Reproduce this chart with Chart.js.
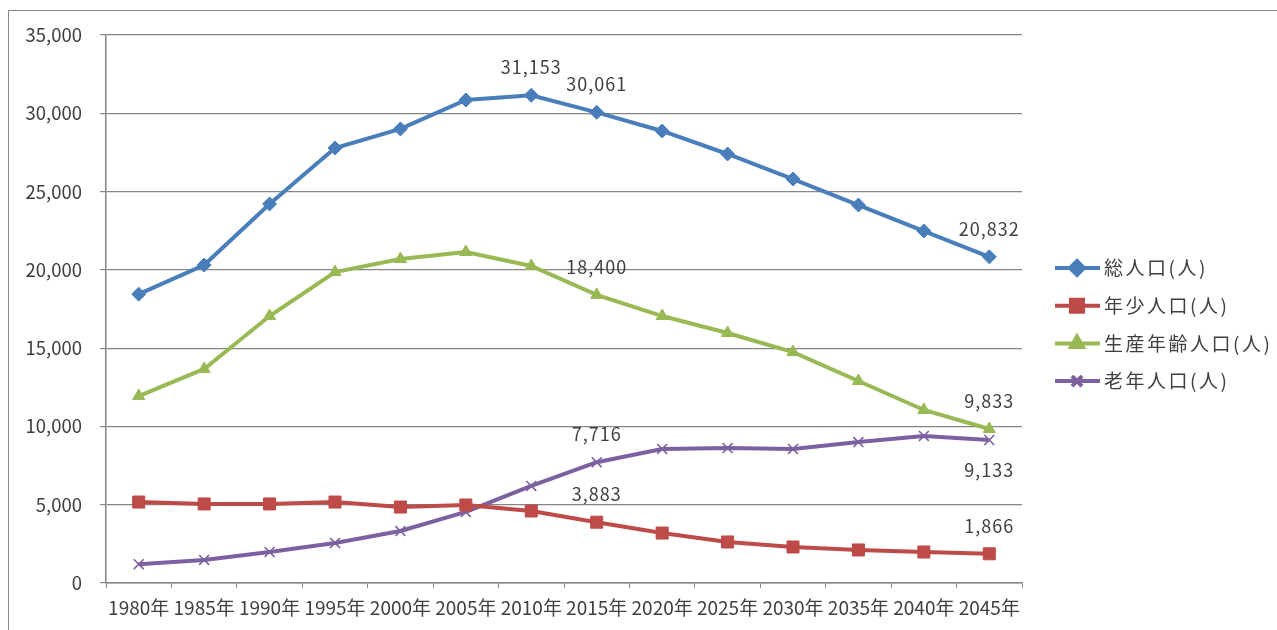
<!DOCTYPE html>
<html lang="ja">
  <head>
    <meta charset="UTF-8" />
    <title>人口推計</title>
    <script src="https://cdn.jsdelivr.net/npm/chart.js"></script>
    <style>
      html, body { margin: 0; padding: 0; background: #fff; }
      .wrap { position: relative; width: 1277px; height: 630px; overflow: hidden; }
      .frame { position: absolute; left: 8px; top: 10px; width: 1300px; height: 700px; border: 1px solid #8c8c8c; }
      canvas { position: absolute; left: 0; top: 0; }
    </style>
  </head>
  <body>
    <div class="wrap">
      <div class="frame"></div>
      <canvas id="chart" width="1277" height="630"></canvas>
    </div>
    <script>
      const years = ["1980年", "1985年", "1990年", "1995年", "2000年", "2005年", "2010年",
        "2015年", "2020年", "2025年", "2030年", "2035年", "2040年", "2045年"];
      const total = [18450, 20310, 24210, 27780, 29000, 30850, 31153,
        30061, 28870, 27400, 25800, 24140, 22480, 20832];
      const young = [5170, 5050, 5050, 5170, 4850, 4980, 4600,
        3883, 3190, 2620, 2300, 2110, 1980, 1866];
      const working = [11940, 13670, 17050, 19860, 20690, 21140, 20250,
        18400, 17050, 15970, 14750, 12900, 11050, 9833];
      const elderly = [1200, 1470, 1980, 2560, 3320, 4540, 6200,
        7716, 8560, 8620, 8560, 9000, 9390, 9133];
      const seriesNames = ["総人口(人)", "年少人口(人)", "生産年齢人口(人)", "老年人口(人)"];
      const yTicks = [0, 5000, 10000, 15000, 20000, 25000, 30000, 35000];

      // which points get a value label: [dataset, index, above?]
      const labelled = [[0, 6, true], [0, 7, true], [0, 13, true],
        [2, 7, true], [2, 13, true], [3, 7, true], [3, 13, false],
        [1, 7, true], [1, 13, true]];

      const FONT = "'Noto Sans CJK JP', 'Noto Sans', sans-serif";
      const fmt = (v) => v.toLocaleString("en-US");

      function mk(label, data, color, style, radius) {
        return {
          label, data,
          borderColor: color, backgroundColor: color,
          borderWidth: 4, tension: 0,
          pointStyle: style, pointRadius: radius, pointHoverRadius: radius,
          pointBorderWidth: style === "crossRot" ? 1.6 : 1,
          pointBackgroundColor: color, pointBorderColor: color,
        };
      }

      const valueLabels = {
        id: "valueLabels",
        afterDatasetsDraw(chart) {
          const ctx = chart.ctx;
          ctx.save();
          ctx.font = "18px " + FONT;
          ctx.letterSpacing = "1px";
          ctx.fillStyle = "#404040";
          ctx.textAlign = "center";
          ctx.textBaseline = "middle";
          labelled.forEach(([d, i, up]) => {
            const el = chart.getDatasetMeta(d).data[i];
            const v = chart.data.datasets[d].data[i];
            ctx.fillText(fmt(v), el.x, el.y + (up ? -28 : 30));
          });
          ctx.restore();
        },
      };

      const sideLegend = {
        id: "sideLegend",
        afterDraw(chart) {
          const ctx = chart.ctx;
          ctx.save();
          chart.data.datasets.forEach((ds, k) => {
            const y = 268 + k * 37.7;
            ctx.strokeStyle = ds.borderColor;
            ctx.lineWidth = 4;
            ctx.beginPath();
            ctx.moveTo(1055, y);
            ctx.lineTo(1100, y);
            ctx.stroke();
            Chart.helpers.drawPoint(ctx, {
              pointStyle: ds.pointStyle, radius: ds.pointRadius,
              borderWidth: ds.pointBorderWidth, rotation: 0,
            }, 1077, y);
            ctx.fillStyle = ds.borderColor;
            ctx.lineWidth = ds.pointBorderWidth;
            ctx.fill();
            ctx.stroke();
            ctx.fillStyle = "#404040";
            ctx.font = "19px " + FONT;
            ctx.letterSpacing = "2.5px";
            ctx.textBaseline = "middle";
            ctx.fillText(ds.label, 1104, y);
            ctx.letterSpacing = "0px";
          });
          ctx.restore();
        },
      };

      new Chart(document.getElementById("chart"), {
        type: "line",
        data: {
          labels: years,
          datasets: [
            mk(seriesNames[0], total, "#4A7EBB", "rectRot", 7),
            mk(seriesNames[1], young, "#BE4B48", "rect", 8.5),
            mk(seriesNames[2], working, "#98B954", "triangle", 7),
            mk(seriesNames[3], elderly, "#7D60A0", "crossRot", 7),
          ],
        },
        options: {
          responsive: false,
          animation: false,
          layout: { padding: { top: 35, right: 255, left: 0, bottom: 0 } },
          plugins: { legend: { display: false }, tooltip: { enabled: false } },
          scales: {
            x: {
              offset: true,
              grid: {
                offset: true, drawOnChartArea: false, drawTicks: true,
                tickLength: 5, color: "#868686",
              },
              border: { color: "#868686", width: 1.5 },
              ticks: {
                autoSkip: false, maxRotation: 0, padding: 8,
                color: "#404040", font: { family: FONT, size: 19 },
              },
              afterFit(s) { s.height = 47; },
            },
            y: {
              min: 0, max: 35000,
              afterBuildTicks(s) { s.ticks = yTicks.map((v) => ({ value: v })); },
              grid: { color: "#868686", lineWidth: 1.2, tickLength: 6 },
              border: { color: "#868686", width: 1.5 },
              ticks: {
                padding: 18, color: "#404040",
                font: { family: FONT, size: 18.5 },
                callback: (v) => fmt(v),
              },
              afterFit(s) { s.width = 106; },
            },
          },
        },
        plugins: [valueLabels, sideLegend],
      });
    </script>
  </body>
</html>
